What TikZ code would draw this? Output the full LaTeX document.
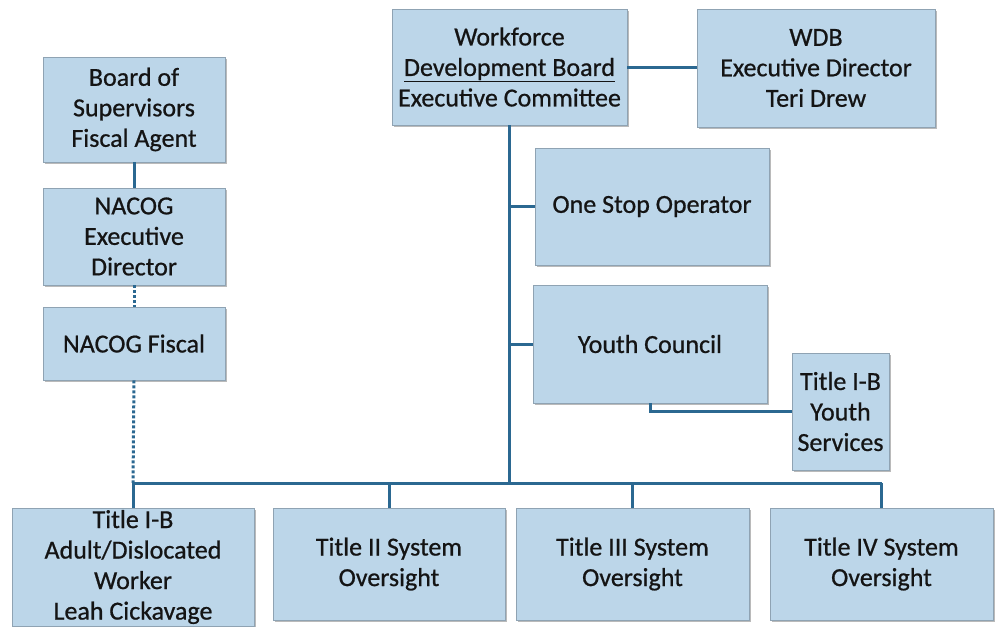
\documentclass[tikz,border=0pt]{standalone}
\usepackage{fontspec}
\setmainfont{Carlito}
\newfontfamily\boxfont{Carlito}[FakeBold=0.7]
\usetikzlibrary{shadows}
\definecolor{boxfill}{HTML}{BCD6E9}
\definecolor{boxedge}{HTML}{8FA3B3}
\definecolor{linkblue}{HTML}{2B6891}
\definecolor{inktext}{HTML}{141414}
\tikzset{
  orgbox/.style={draw=boxedge, line width=0.6pt, fill=boxfill, align=center,
    text=inktext, inner sep=2pt,
    font=\boxfont\fontsize{26}{30.5}\selectfont,
    drop shadow={shadow xshift=2pt, shadow yshift=-2pt, fill=black!45, opacity=0.6}},
  link/.style={draw=linkblue, line width=3pt},
  dotlink/.style={draw=linkblue, line width=3pt, dash pattern=on 3pt off 2pt}
}
\newcommand{\orgnode}[6]{%
  \node[orgbox, minimum width=#4pt, minimum height=#5pt] (#1) at (#2,#3) {#6};}
\begin{document}
\begin{tikzpicture}[x=1pt, y=-1pt]
  \path[use as bounding box, fill=white] (0,0) rectangle (995,626);

  % left column
  \orgnode{board}{134}{109.5}{182}{105}{Board of\\Supervisors\\Fiscal Agent}
  \orgnode{nexec}{134}{236.5}{182}{97}{NACOG\\Executive\\Director}
  \orgnode{nfisc}{134}{343.5}{182}{73}{NACOG Fiscal}

  % board and director
  \orgnode{wfb}{509.5}{67}{235}{116}{Workforce\\\underline{Development Board}\\Executive Committee}
  \orgnode{wdbd}{816}{68}{238}{118}{WDB\\Executive Director\\Teri Drew}

  % middle branches
  \orgnode{onestop}{652}{206.5}{234}{117}{One Stop Operator}
  \orgnode{youth}{650}{344}{234}{118}{Youth Council}
  \orgnode{ysvc}{840.5}{411.5}{97}{117}{Title I-B\\Youth\\Services}

  % bottom row
  \orgnode{t1}{133}{567}{242}{118}{Title I-B\\Adult/Dislocated\\Worker\\Leah Cickavage}
  \orgnode{t2}{389}{564}{232}{112}{Title II System\\Oversight}
  \orgnode{t3}{632.5}{564}{233}{112}{Title III System\\Oversight}
  \orgnode{t4}{881.5}{564}{223}{112}{Title IV System\\Oversight}

  % bus line ends
  \coordinate (busL) at (133,483);
  \coordinate (busR) at (t4.north |- busL);

  % connectors
  \draw[link] (board.south) -- (nexec.north);
  \draw[dotlink] (nexec.south) -- (nfisc.north);
  \draw[dotlink] (nfisc.south) -- (busL);
  \draw[link] (wfb.east) -- (wfb.east -| wdbd.west);
  \draw[link] (wfb.south) -- (wfb.south |- busL);
  \draw[link] (wfb.south |- onestop.west) -- (onestop.west);
  \draw[link] (wfb.south |- youth.west) -- (youth.west);
  \draw[link] (youth.south) |- (ysvc.west);
  \draw[link] (busL) -- (busR);
  \draw[link] (busL) -- (t1.north);
  \draw[link] (t2.north |- busL) -- (t2.north);
  \draw[link] (t3.north |- busL) -- (t3.north);
  \draw[link] (busR) -- (t4.north);
\end{tikzpicture}
\end{document}
